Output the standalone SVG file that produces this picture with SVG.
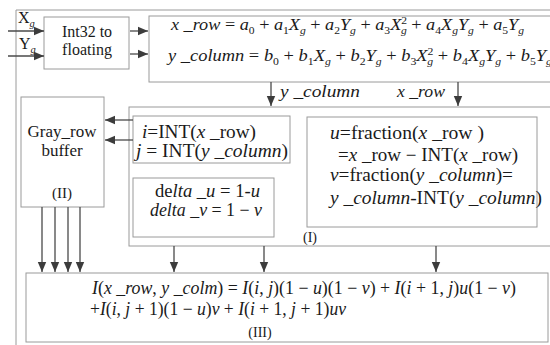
<svg xmlns="http://www.w3.org/2000/svg" width="550" height="345" viewBox="0 0 550 345">
<style>
.t{font-family:"Liberation Serif","DejaVu Serif",serif;fill:#1a1a1a}
.i{font-style:italic}
.s{font-size:10.5px}
.box{fill:#fff;stroke:#9a9a9a;stroke-width:1}
.frame{fill:none;stroke:#9a9a9a;stroke-width:1}
.ln{fill:none;stroke:#4a4a4a;stroke-width:1.3}
.ar{marker-end:url(#ah)}
</style>
<defs>
<marker id="ah" markerUnits="userSpaceOnUse" markerWidth="10" markerHeight="10" viewBox="0 0 10 10" refX="10" refY="5" orient="auto">
<path d="M0,0.8 L10,5 L0,9.2 z" fill="#3c3c3c"/>
</marker>
</defs>
<rect width="550" height="345" fill="#fff"/>
<path class="frame" d="M16,345 V10 H552"/>

<g id="int32">
<rect class="box" x="44" y="17" width="85" height="52"/>
<text class="t" x="87" y="37" text-anchor="middle" font-size="16">Int32 to</text>
<text class="t" x="87" y="55" text-anchor="middle" font-size="16">floating</text>
</g>

<g id="inputs">
<text class="t" x="18" y="23" font-size="16">X<tspan class="i s" dy="4">g</tspan></text>
<text class="t" x="19" y="49" font-size="16">Y<tspan class="i s" dy="4">g</tspan></text>
</g>

<g id="formula">
<rect class="box" x="149" y="16" width="410" height="66"/>
<text class="t" x="171" y="30" font-size="16.5" textLength="353" lengthAdjust="spacingAndGlyphs"><tspan class="i">x</tspan><tspan class="i"> _row</tspan> = <tspan class="i">a</tspan><tspan class="s" dy="3.5">0</tspan><tspan dy="-3.5"> + </tspan><tspan class="i">a</tspan><tspan class="s" dy="3.5">1</tspan><tspan class="i" dy="-3.5">X</tspan><tspan class="s i" dy="3.5">g</tspan><tspan dy="-3.5"> + </tspan><tspan class="i">a</tspan><tspan class="s" dy="3.5">2</tspan><tspan class="i" dy="-3.5">Y</tspan><tspan class="s i" dy="3.5">g</tspan><tspan dy="-3.5"> + </tspan><tspan class="i">a</tspan><tspan class="s" dy="3.5">3</tspan><tspan class="i" dy="-3.5">X</tspan><tspan class="s" dy="-6">2</tspan><tspan class="s i" dx="-5.5" dy="9.5">g</tspan><tspan dy="-3.5"> + </tspan><tspan class="i">a</tspan><tspan class="s" dy="3.5">4</tspan><tspan class="i" dy="-3.5">X</tspan><tspan class="s i" dy="3.5">g</tspan><tspan class="i" dy="-3.5">Y</tspan><tspan class="s i" dy="3.5">g</tspan><tspan dy="-3.5"> + </tspan><tspan class="i">a</tspan><tspan class="s" dy="3.5">5</tspan><tspan class="i" dy="-3.5">Y</tspan><tspan class="s i" dy="3.5">g</tspan></text>
<text class="t" x="168" y="61" font-size="16.5" textLength="384" lengthAdjust="spacingAndGlyphs"><tspan class="i">y _column</tspan> = <tspan class="i">b</tspan><tspan class="s" dy="3.5">0</tspan><tspan dy="-3.5"> + </tspan><tspan class="i">b</tspan><tspan class="s" dy="3.5">1</tspan><tspan class="i" dy="-3.5">X</tspan><tspan class="s i" dy="3.5">g</tspan><tspan dy="-3.5"> + </tspan><tspan class="i">b</tspan><tspan class="s" dy="3.5">2</tspan><tspan class="i" dy="-3.5">Y</tspan><tspan class="s i" dy="3.5">g</tspan><tspan dy="-3.5"> + </tspan><tspan class="i">b</tspan><tspan class="s" dy="3.5">3</tspan><tspan class="i" dy="-3.5">X</tspan><tspan class="s" dy="-6">2</tspan><tspan class="s i" dx="-5.5" dy="9.5">g</tspan><tspan dy="-3.5"> + </tspan><tspan class="i">b</tspan><tspan class="s" dy="3.5">4</tspan><tspan class="i" dy="-3.5">X</tspan><tspan class="s i" dy="3.5">g</tspan><tspan class="i" dy="-3.5">Y</tspan><tspan class="s i" dy="3.5">g</tspan><tspan dy="-3.5"> + </tspan><tspan class="i">b</tspan><tspan class="s" dy="3.5">5</tspan><tspan class="i" dy="-3.5">Y</tspan><tspan class="s i" dy="3.5">g</tspan></text>
</g>

<g id="labels">
<text class="t i" x="280" y="97" font-size="17" textLength="80" lengthAdjust="spacingAndGlyphs">y _column</text>
<text class="t i" x="397" y="97" font-size="17" textLength="48" lengthAdjust="spacingAndGlyphs">x _row</text>
</g>

<g id="gray-buffer">
<rect class="box" x="21" y="97" width="83" height="110"/>
<text class="t" x="62" y="137" text-anchor="middle" font-size="17">Gray_row</text>
<text class="t" x="62" y="156" text-anchor="middle" font-size="17">buffer</text>
<text class="t" x="62" y="198" text-anchor="middle" font-size="15">(II)</text>
</g>

<g id="stage-I">
<rect class="box" x="129" y="107" width="430" height="139"/>
<text class="t" x="303" y="242" font-size="14">(I)</text>
</g>

<g id="int-box">
<rect class="box" x="133" y="116" width="157" height="47"/>
<text class="t" x="142" y="138" font-size="18" textLength="114" lengthAdjust="spacingAndGlyphs"><tspan class="i">i</tspan>=INT(<tspan class="i">x</tspan> _row)</text>
<text class="t" x="136" y="157" font-size="18" textLength="152" lengthAdjust="spacingAndGlyphs"><tspan class="i">j</tspan> = INT(<tspan class="i">y _column</tspan>)</text>
</g>

<g id="delta-box">
<rect class="box" x="133" y="178" width="141" height="59"/>
<text class="t" x="155" y="197" font-size="18" textLength="105" lengthAdjust="spacingAndGlyphs">de<tspan class="i">lta _u</tspan> = 1-<tspan class="i">u</tspan></text>
<text class="t" x="150" y="216" font-size="18" textLength="112" lengthAdjust="spacingAndGlyphs"><tspan class="i">delta _v</tspan> = 1 − <tspan class="i">v</tspan></text>
</g>

<g id="fraction-box">
<rect class="box" x="307" y="117" width="230" height="110"/>
<text class="t" x="330" y="139" font-size="18" textLength="154" lengthAdjust="spacingAndGlyphs"><tspan class="i">u</tspan>=fraction(<tspan class="i">x</tspan> _row )</text>
<text class="t" x="338" y="161" font-size="18" textLength="180" lengthAdjust="spacingAndGlyphs">=<tspan class="i">x</tspan> _row − INT(<tspan class="i">x</tspan> _row)</text>
<text class="t" x="330" y="181" font-size="18" textLength="183" lengthAdjust="spacingAndGlyphs"><tspan class="i">v</tspan>=fraction(<tspan class="i">y _column</tspan>)=</text>
<text class="t" x="330" y="204" font-size="18" textLength="212" lengthAdjust="spacingAndGlyphs"><tspan class="i">y _column</tspan>-INT(<tspan class="i">y _column</tspan>)</text>
</g>

<g id="stage-III">
<rect class="box" x="26" y="273" width="522" height="69"/>
<text class="t" x="92" y="294" font-size="18" textLength="424" lengthAdjust="spacingAndGlyphs"><tspan class="i">I</tspan>(<tspan class="i">x _row</tspan>, <tspan class="i">y _colm</tspan>) = <tspan class="i">I</tspan>(<tspan class="i">i</tspan>, <tspan class="i">j</tspan>)(1 − <tspan class="i">u</tspan>)(1 − <tspan class="i">v</tspan>) + <tspan class="i">I</tspan>(<tspan class="i">i</tspan> + 1, <tspan class="i">j</tspan>)<tspan class="i">u</tspan>(1 − <tspan class="i">v</tspan>)</text>
<text class="t" x="90" y="315" font-size="18" textLength="256" lengthAdjust="spacingAndGlyphs">+<tspan class="i">I</tspan>(<tspan class="i">i</tspan>, <tspan class="i">j</tspan> + 1)(1 − <tspan class="i">u</tspan>)<tspan class="i">v</tspan> + <tspan class="i">I</tspan>(<tspan class="i">i</tspan> + 1, <tspan class="i">j</tspan> + 1)<tspan class="i">uv</tspan></text>
<text class="t" x="260" y="337" text-anchor="middle" font-size="14">(III)</text>
</g>

<g id="connectors">
<path class="ln ar" d="M8,31 H44"/>
<path class="ln ar" d="M8,56 H44"/>
<path class="ln ar" d="M130,31 H148"/>
<path class="ln ar" d="M130,54 H148"/>
<path class="ln ar" d="M271,82 V106"/>
<path class="ln ar" d="M458,82 V106"/>
<path class="ln ar" d="M133,120 H105"/>
<path class="ln ar" d="M133,140 H105"/>
<path class="ln ar" d="M42,207 V272"/>
<path class="ln ar" d="M55,207 V272"/>
<path class="ln ar" d="M68,207 V272"/>
<path class="ln ar" d="M80,207 V272"/>
<path class="ln ar" d="M174,246 V272"/>
<path class="ln ar" d="M264,246 V272"/>
<path class="ln ar" d="M436,246 V272"/>
</g>
</svg>
